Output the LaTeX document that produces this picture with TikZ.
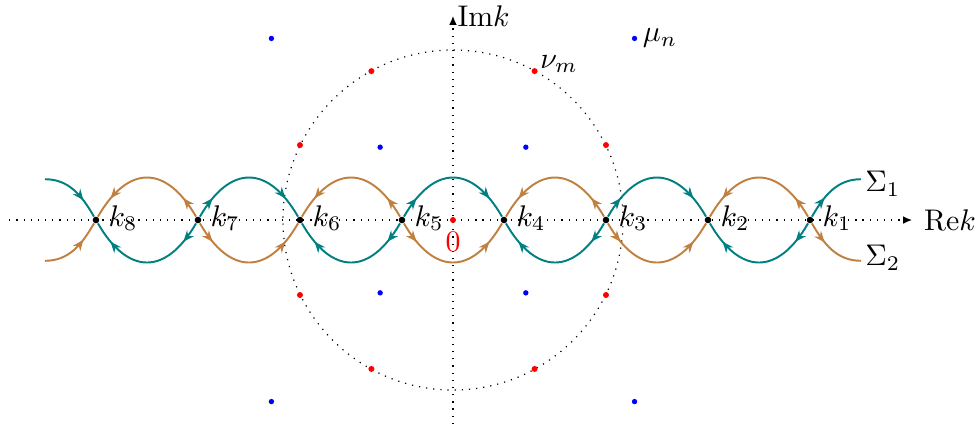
\documentclass[tikz,border=0pt]{standalone}
\usetikzlibrary{arrows.meta,backgrounds,decorations.markings,positioning}

\begin{document}
\begin{tikzpicture}[x=1.2cm,y=1.2cm]
	\tikzset{vertex/.style = {circle,fill,inner sep=0pt,minimum size=2.2pt}}
	\tikzset{pole/.style = {circle,fill=red,inner sep=0pt,minimum size=2pt}}
	\tikzset{zero/.style = {circle,fill=blue,inner sep=0pt,minimum size=1.8pt}}
	\tikzset{axis/.style = {dotted,-{Latex[length=3pt,width=2.6pt]}}}
	\tikzset{lens/.style = {looseness=1.575}}
	\tikzset{edge/.style={line width=.65pt,decoration={markings,%
	    mark=at position .17 with {\arrow{Stealth[length=3.7pt,width=3pt]}},%
	    mark=at position .83 with {\arrow{Stealth[length=3.7pt,width=3pt]}}},postaction={decorate}}}
	\tikzset{tail/.style={line width=.65pt,decoration={markings,%
	    mark=at position #1 with {\arrow{Stealth[length=3.7pt,width=3pt]}}},postaction={decorate}}}

	\useasboundingbox (-4.441,-2.049) rectangle (5.157,2.157);

	% axes and circle
	\coordinate (xl) at (-4.35,0);
	\coordinate (xr) at (4.5,0);
	\coordinate (yb) at (0,-2);
	\coordinate (yt) at (0,2);
	\begin{scope}[on background layer]
	\draw[axis] (xl) -- (xr);
	\draw[axis] (yb) -- (yt);
	\draw[dotted] (0,0) circle (1.667);
	\end{scope}
	\node[right=.5pt of xr] (rek) {$\mathrm{Re}k$};
	\node[right=-2pt of yt] (imk) {$\mathrm{Im}k$};

	% points nu and mu
	\node[pole] (o) at (0,0) {};
	\node[pole] (nu1) at (1.5,0.735) {};
	\node[pole] (nu2) at (0.8,1.46) {};
	\node[pole] (nu3) at (-0.8,1.46) {};
	\node[pole] (nu4) at (-1.5,0.735) {};
	\node[pole] (nu5) at (-1.5,-0.735) {};
	\node[pole] (nu6) at (-0.8,-1.46) {};
	\node[pole] (nu7) at (0.8,-1.46) {};
	\node[pole] (nu8) at (1.5,-0.735) {};
	\node[zero] (mu1) at (0.714,0.714) {};
	\node[zero] (mu2) at (1.78,1.78) {};
	\node[zero] (mu3) at (-0.714,0.714) {};
	\node[zero] (mu4) at (-1.78,1.78) {};
	\node[zero] (mu5) at (-0.714,-0.714) {};
	\node[zero] (mu6) at (-1.78,-1.78) {};
	\node[zero] (mu7) at (0.714,-0.714) {};
	\node[zero] (mu8) at (1.78,-1.78) {};
	\node[red,below=-.8pt of o] (ol) {$0$};
	\node[inner sep=.5pt,right=0pt of nu2,yshift=2.3pt] (nul) {$\nu_m$};
	\node[inner sep=1pt,right=.5pt of mu2] (mul) {$\mu_n$};

	% vertices
	\node[vertex] (k1) at (3.5,0) {};
	\node[vertex] (k2) at (2.5,0) {};
	\node[vertex] (k3) at (1.5,0) {};
	\node[vertex] (k4) at (0.5,0) {};
	\node[vertex] (k5) at (-0.5,0) {};
	\node[vertex] (k6) at (-1.5,0) {};
	\node[vertex] (k7) at (-2.5,0) {};
	\node[vertex] (k8) at (-3.5,0) {};
	\node[right=-.6pt of k1,yshift=.7pt] (k1l) {$k_1$};
	\node[right=-.6pt of k2,yshift=.7pt] (k2l) {$k_2$};
	\node[right=-.6pt of k3,yshift=.7pt] (k3l) {$k_3$};
	\node[right=-.6pt of k4,yshift=.7pt] (k4l) {$k_4$};
	\node[right=-.6pt of k5,yshift=.7pt] (k5l) {$k_5$};
	\node[right=-.6pt of k6,yshift=.7pt] (k6l) {$k_6$};
	\node[right=-.6pt of k7,yshift=.7pt] (k7l) {$k_7$};
	\node[right=-.6pt of k8,yshift=.7pt] (k8l) {$k_8$};

	% ends of the contours
	\coordinate (a1) at (-4,0.4);
	\coordinate (a2) at (-4,-0.4);
	\coordinate (b1) at (4,0.4);
	\coordinate (b2) at (4,-0.4);
	\node[right=-2.1pt of b1,yshift=-1.6pt] (s1) {$\Sigma_1$};
	\node[right=-2.1pt of b2,yshift=1pt] (s2) {$\Sigma_2$};

	% edges
	\begin{scope}[on background layer]
	\draw[edge,brown] (k1) to[out=120,in=60,lens] (k2);
	\draw[edge,teal] (k1) to[out=-120,in=-60,lens] (k2);
	\draw[edge,teal] (k3) to[out=60,in=120,lens] (k2);
	\draw[edge,brown] (k3) to[out=-60,in=-120,lens] (k2);
	\draw[edge,brown] (k3) to[out=120,in=60,lens] (k4);
	\draw[edge,teal] (k3) to[out=-120,in=-60,lens] (k4);
	\draw[edge,teal] (k5) to[out=60,in=120,lens] (k4);
	\draw[edge,brown] (k5) to[out=-60,in=-120,lens] (k4);
	\draw[edge,brown] (k5) to[out=120,in=60,lens] (k6);
	\draw[edge,teal] (k5) to[out=-120,in=-60,lens] (k6);
	\draw[edge,teal] (k7) to[out=60,in=120,lens] (k6);
	\draw[edge,brown] (k7) to[out=-60,in=-120,lens] (k6);
	\draw[edge,brown] (k7) to[out=120,in=60,lens] (k8);
	\draw[edge,teal] (k7) to[out=-120,in=-60,lens] (k8);
	\draw[tail=.7,teal] (a1) to[out=0,in=120] (k8);
	\draw[tail=.7,brown] (a2) to[out=0,in=-120] (k8);
	\draw[tail=.35,teal] (k1) to[out=60,in=180] (b1);
	\draw[tail=.35,brown] (k1) to[out=-60,in=180] (b2);
	\end{scope}
\end{tikzpicture}
\end{document}
